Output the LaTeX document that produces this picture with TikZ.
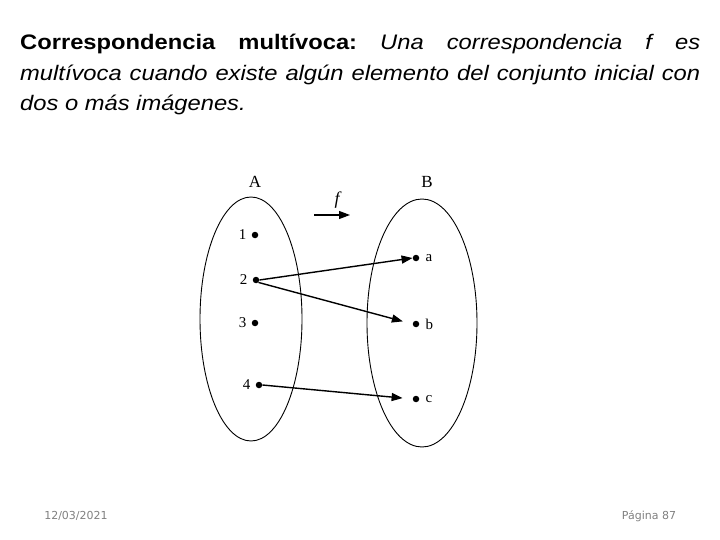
\documentclass[tikz,border=0pt]{standalone}
\usepackage{fontspec}
\setmainfont{Liberation Serif}
\newfontfamily\titlefont[FakeStretch=1.13]{Liberation Sans}
\newfontfamily\footfont{DejaVu Sans}
\usetikzlibrary{shapes.geometric, arrows.meta, positioning}
\frenchspacing

\begin{document}
\begin{tikzpicture}[x=1pt, y=-1pt,
    set/.style={draw, ellipse, line width=0.9pt, inner sep=0pt},
    dot/.style={circle, fill=black, inner sep=0pt, minimum size=6.5pt},
    elem/.style={font=\fontsize{15}{17}\selectfont, inner sep=1pt},
    maparrow/.style={-{Triangle[length=11pt,width=8pt]}, line width=1.4pt},
    footer/.style={font=\footfont\fontsize{11}{13}\selectfont, gray, anchor=base},
    every node/.style={font=\fontsize{17}{19}\selectfont}]
    \useasboundingbox (0,0) rectangle (720,540);
    % title text
    \node[anchor=north west, inner sep=0pt, text width=680pt, align=justify,
          font=\titlefont\fontsize{21}{30.5}\selectfont] (title) at (20,34)
        {\textbf{Correspondencia multívoca:} \textit{Una correspondencia f es\linebreak
         multívoca cuando existe algún elemento del conjunto inicial con\linebreak
         dos o más imágenes.}};
    % the two sets
    \node[set, minimum width=102pt, minimum height=244pt] (setA) at (251,319) {};
    \node[set, minimum width=110pt, minimum height=248pt] (setB) at (422,323) {};
    \node (nameA) at (255,182) {A};
    \node (nameB) at (427,182) {B};
    % f over the arrow
    \coordinate (fstart) at (314,215);
    \coordinate (fend) at (350,215);
    \draw[maparrow, line width=1.1pt] (fstart) -- (fend);
    \node[font=\itshape\fontsize{18}{20}\selectfont] (fname) at (337,200) {f};
    % elements of A
    \node[dot] (n1) at (255,235) {};
    \node[dot] (n2) at (256,280) {};
    \node[dot] (n3) at (255,323) {};
    \node[dot] (n4) at (259,385) {};
    \node[elem, left=4pt of n1] (l1) {1};
    \node[elem, left=4pt of n2] (l2) {2};
    \node[elem, left=4pt of n3] (l3) {3};
    \node[elem, left=4pt of n4] (l4) {4};
    % elements of B
    \node[dot] (ea) at (416,258) {};
    \node[dot] (eb) at (416,324) {};
    \node[dot] (ec) at (416,399) {};
    \node[elem, right=5pt of ea] (la) {a};
    \node[elem, right=5pt of eb] (lb) {b};
    \node[elem, right=5pt of ec] (lc) {c};
    % images
    \draw[maparrow] (n2.east) -- (ea.west);
    \draw[maparrow, shorten >=10pt] (n2.south east) -- (eb.west);
    \draw[maparrow, shorten >=10pt] (n4.east) -- (ec.west);
    % footer
    \node[footer] (date) at (76,519) {12/03/2021};
    \node[footer] (page) at (649,519) {Página 87};
\end{tikzpicture}
\end{document}
